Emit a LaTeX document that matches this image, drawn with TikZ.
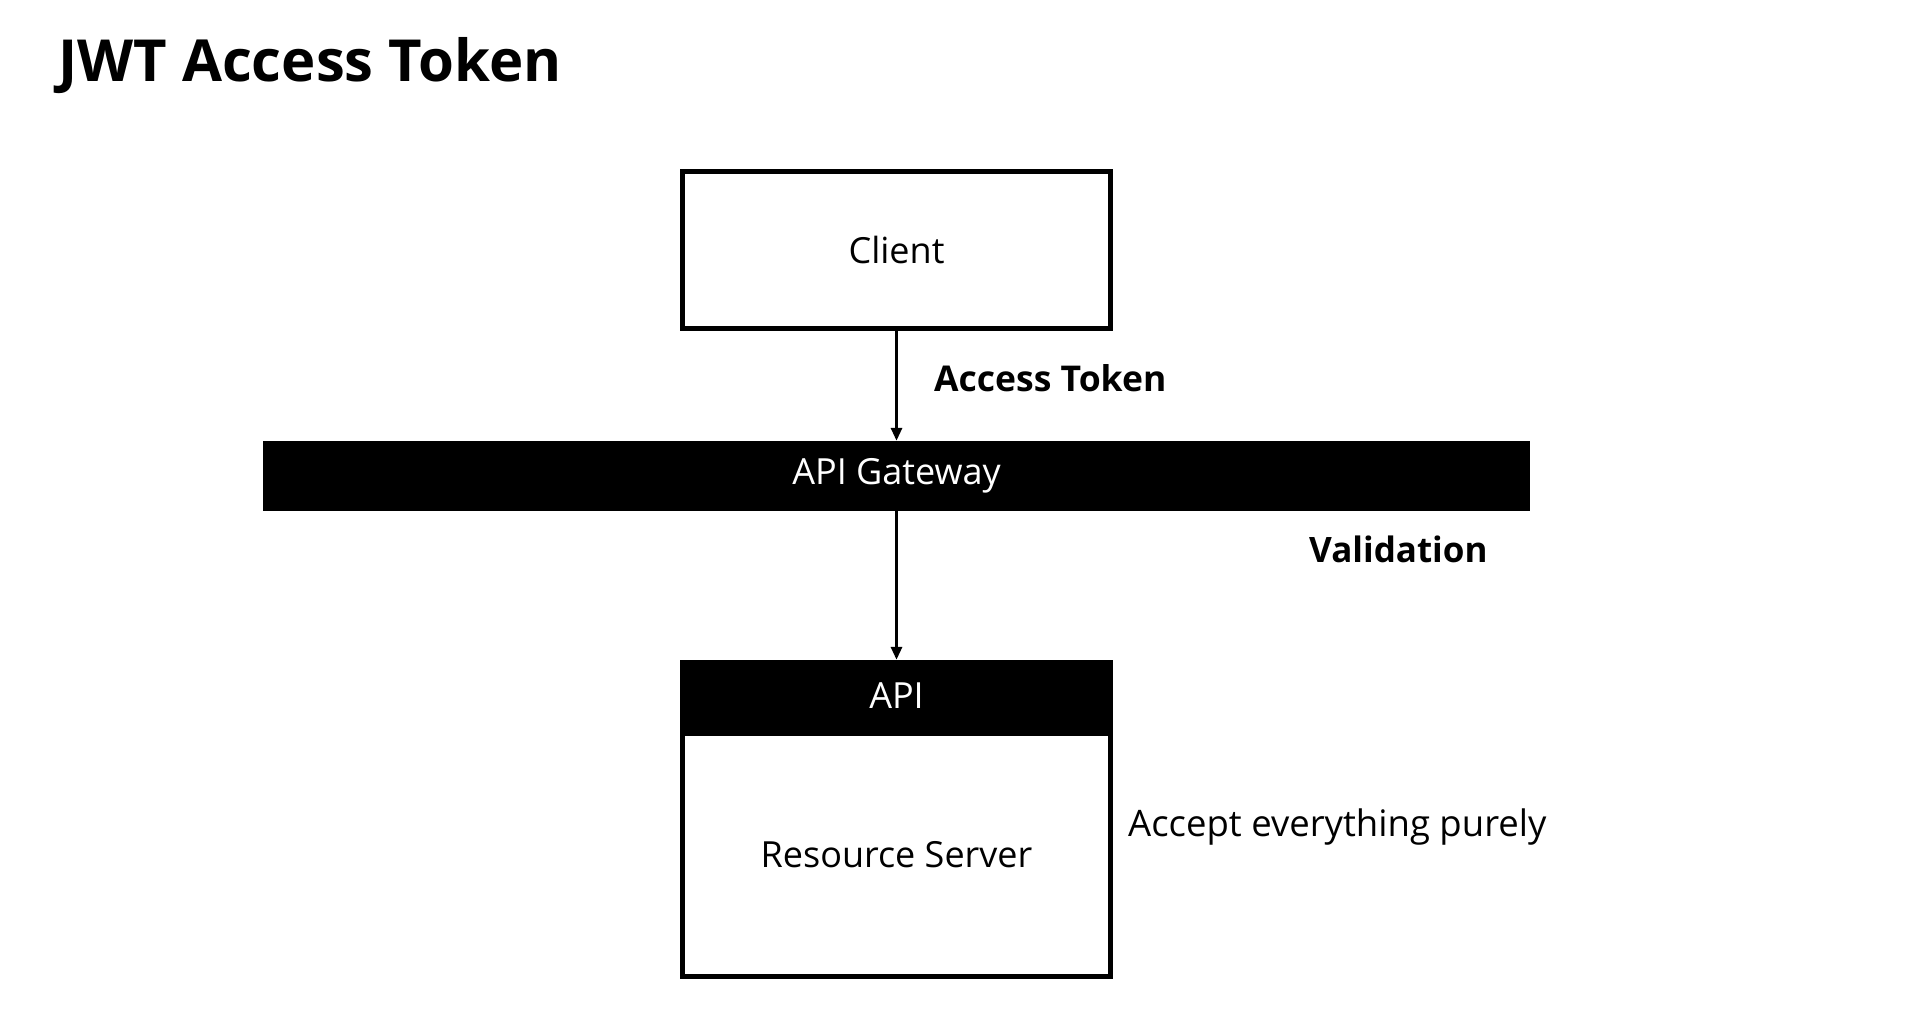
\documentclass[tikz,border=0pt]{standalone}
\usepackage{fontspec}
\setmainfont{Open Sans}
\usetikzlibrary{arrows.meta}
\begin{document}
\begin{tikzpicture}[x=1pt,y=-1pt]
	\tikzset{jwbox/.style={rectangle, draw, line width=5pt, minimum width=428pt,
				inner sep=0pt, font=\fontsize{36}{40}\selectfont}}
	\tikzset{jwbar/.style={rectangle, fill=black, text=white, inner sep=0pt,
				font=\fontsize{36}{40}\selectfont}}
	\tikzset{jwlabel/.style={anchor=base west, inner sep=0pt,
				font=\fontsize{36.5}{40}\selectfont}}
	\tikzset{jwarrow/.style={line width=3pt, -{Triangle[length=13pt,width=11pt]}}}

		\useasboundingbox (0,0) rectangle (1910,1014);
		\node[jwlabel, font=\fontsize{58}{62}\selectfont\bfseries] (title) at (58,82) {JWT Access Token};

		\node[jwbox, minimum height=157pt] (client) at (896.5,250) {Client};
		\node[jwbar, minimum width=1267pt, minimum height=70pt] (gateway) at (896.5,476) {API Gateway};
		\node[jwbox, minimum height=243pt] (resource) at (896.5,855) {Resource Server};
		\node[jwbar, minimum width=433pt, minimum height=72pt] (api) at (896.5,696) {API};

		\draw[jwarrow] (client) -- (gateway);
		\draw[jwarrow] (gateway) -- (api);

		\node[jwlabel, font=\fontsize{35.5}{40}\selectfont\bfseries] (token) at (934,391) {Access Token};
		\node[jwlabel, font=\fontsize{35}{40}\selectfont\bfseries] (valid) at (1309,562) {Validation};
		\node[jwlabel] (accept) at (1128,836) {Accept everything purely};
\end{tikzpicture}
\end{document}
